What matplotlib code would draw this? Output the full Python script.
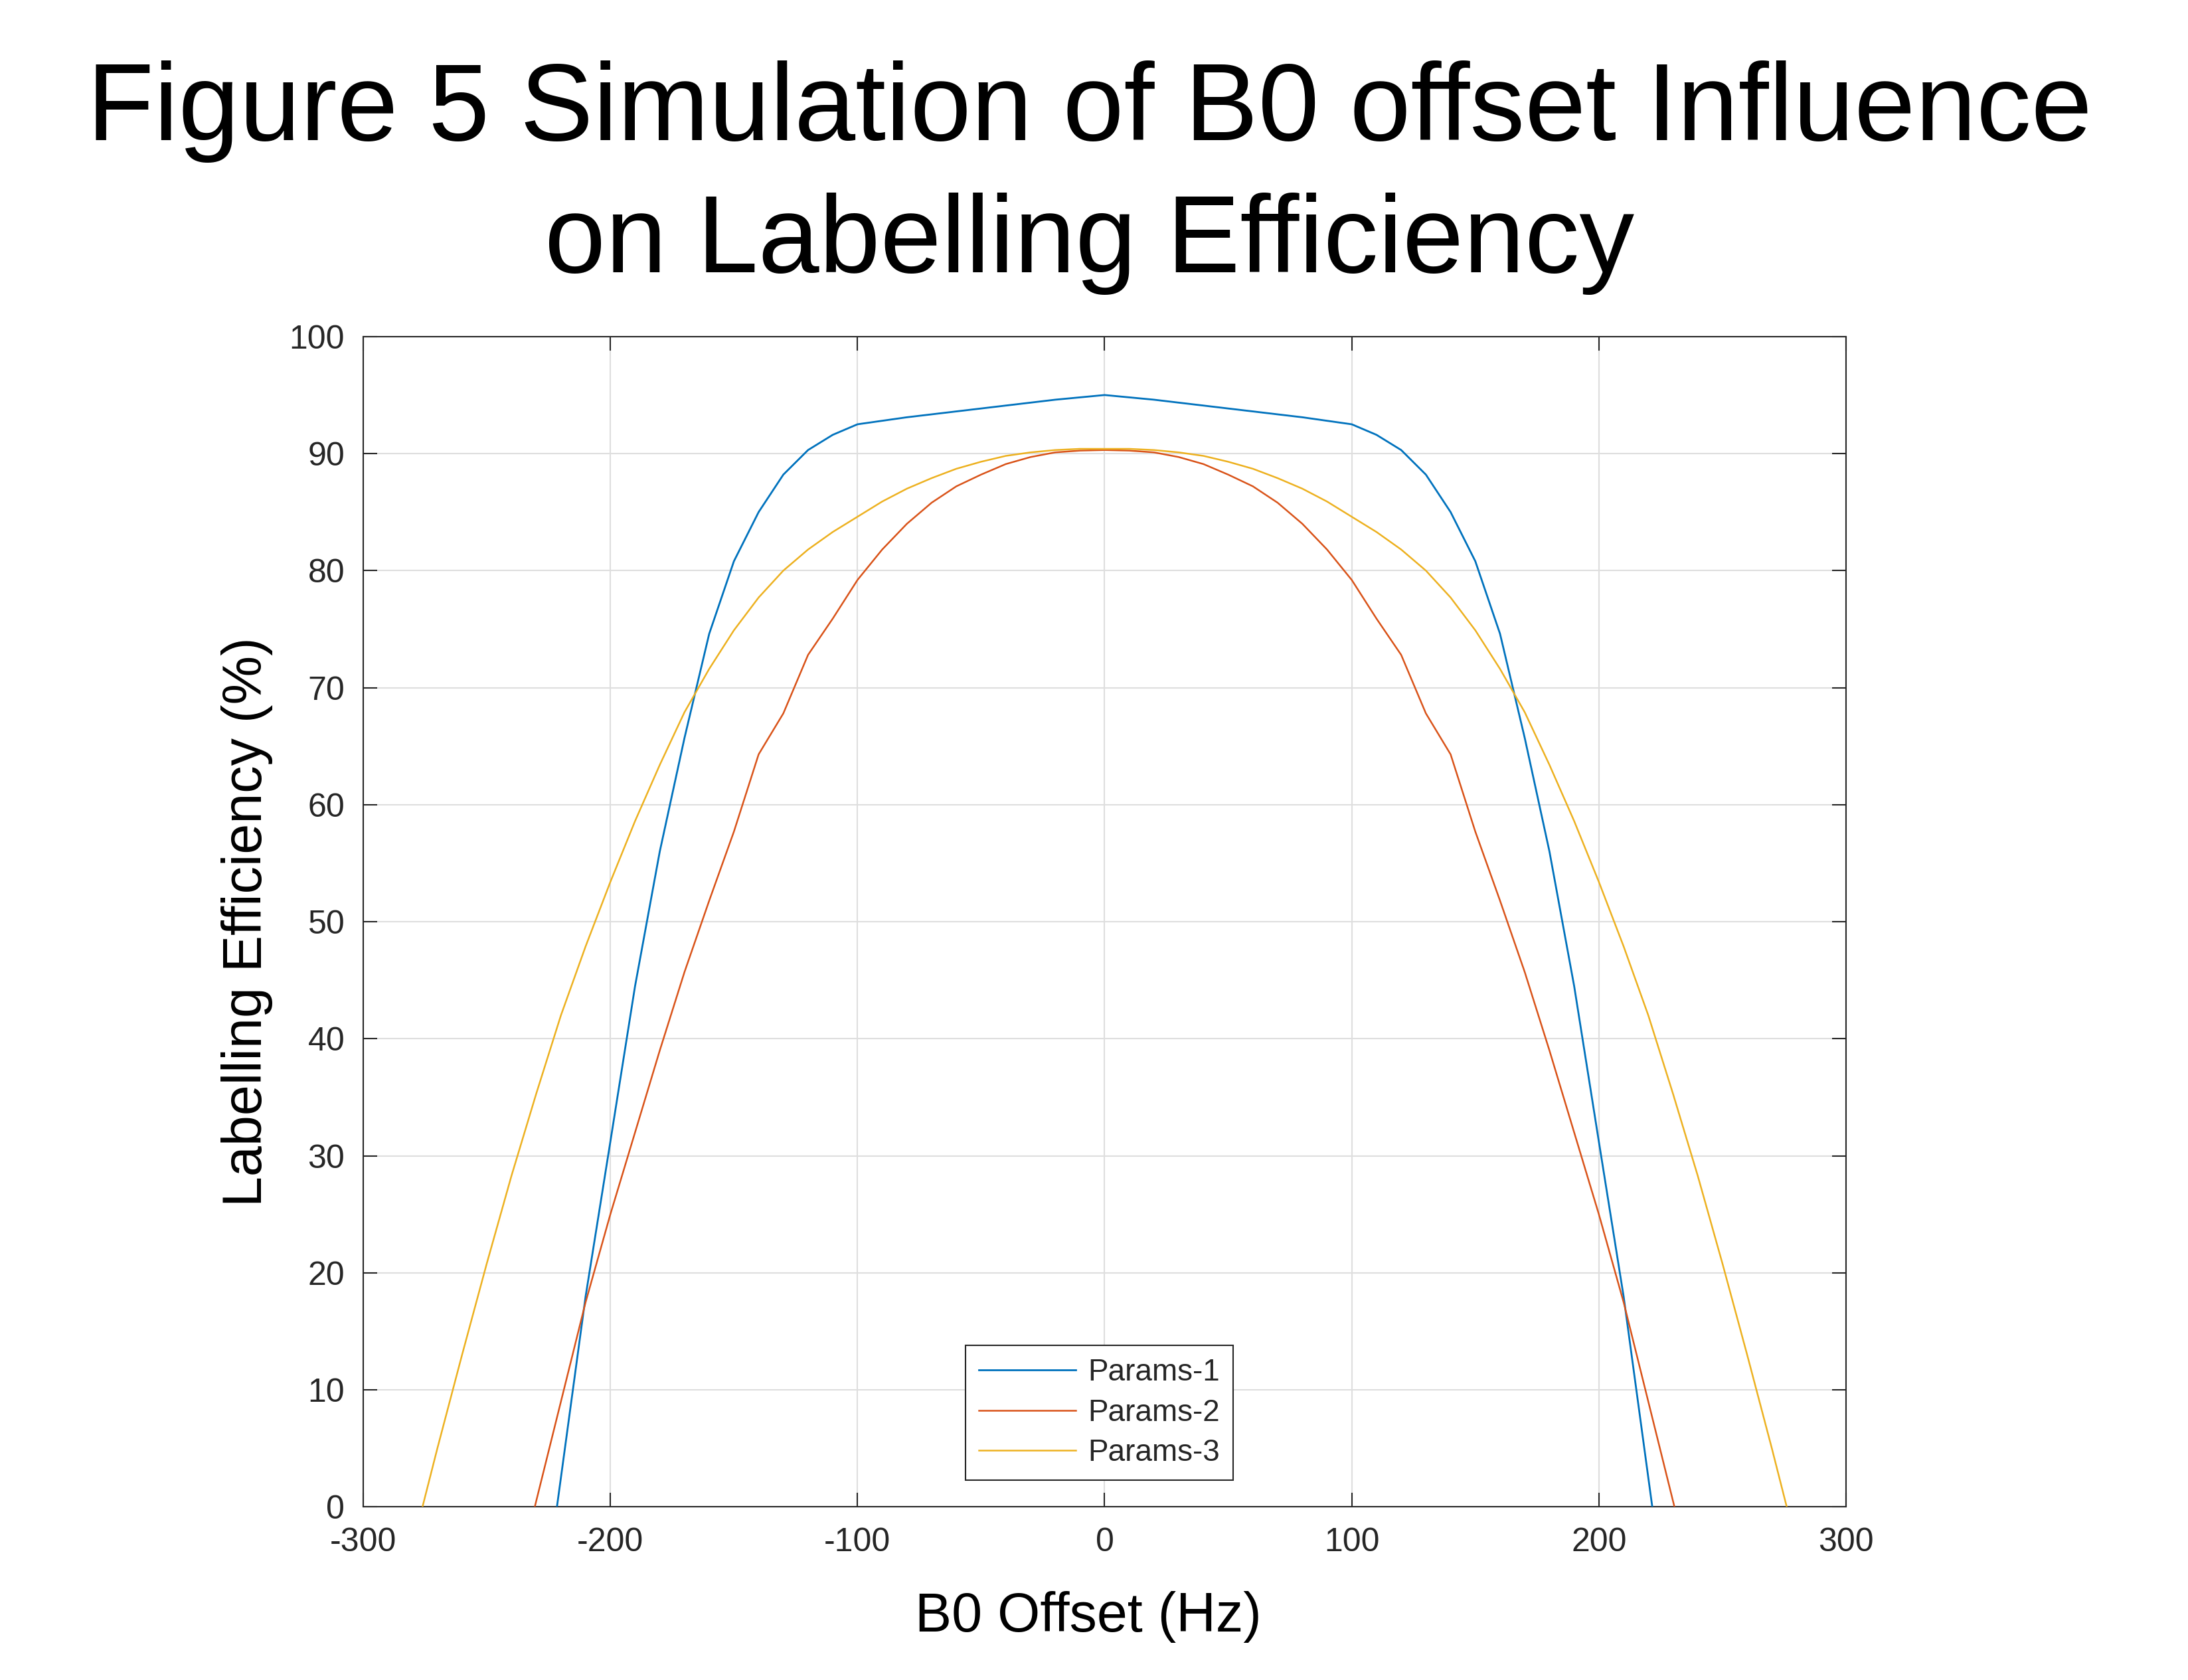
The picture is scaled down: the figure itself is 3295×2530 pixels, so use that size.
import matplotlib.pyplot as plt
import numpy as np

plt.rcParams['font.family'] = ['Liberation Sans', 'DejaVu Sans']
plt.rcParams['axes.unicode_minus'] = False

# B0 offset [Hz]
offset = [-240, -230, -220, -210, -200, -190, -180, -170, -160, -150, -140, -130, -120, -110,
          -100, -90, -80, -70, -60, -50, -40, -30, -20, -10, 0,
          10, 20, 30, 40, 50, 60, 70, 80, 90, 100,
          110, 120, 130, 140, 150, 160, 170, 180, 190, 200, 210, 220, 230, 240]

# Params-1
eff1 = [-26, -13, 2.5, 18, 31.2, 44.5, 56, 65.7, 74.6, 80.8, 85.0, 88.2, 90.3, 91.6,
        92.5, 92.8, 93.1, 93.35, 93.6, 93.85, 94.1, 94.35, 94.6, 94.8, 95.0,
        94.8, 94.6, 94.35, 94.1, 93.85, 93.6, 93.35, 93.1, 92.8, 92.5,
        91.6, 90.3, 88.2, 85.0, 80.8, 74.6, 65.7, 56, 44.5, 31.2, 18, 2.5, -13, -26]

# Params-2
eff2 = [-8, 0.5, 9, 17.5, 25, 32, 39, 45.7, 51.8, 57.7, 64.3, 67.8, 72.8, 75.9,
        79.2, 81.8, 84.0, 85.8, 87.2, 88.2, 89.1, 89.7, 90.1, 90.25, 90.3,
        90.25, 90.1, 89.7, 89.1, 88.2, 87.2, 85.8, 84.0, 81.8, 79.2,
        75.9, 72.8, 67.8, 64.3, 57.7, 51.8, 45.7, 39, 32, 25, 17.5, 9, 0.5, -8]

# Params-3 (wider range)
offset3 = [-280, -270, -260, -250, -240, -230, -220, -210, -200, -190, -180, -170, -160, -150,
           -140, -130, -120, -110, -100, -90, -80, -70, -60, -50, -40, -30, -20, -10, 0,
           10, 20, 30, 40, 50, 60, 70, 80, 90, 100, 110, 120, 130, 140,
           150, 160, 170, 180, 190, 200, 210, 220, 230, 240, 250, 260, 270, 280]
eff3 = [-3.3, 5, 13, 20.8, 28.3, 35.3, 42, 47.9, 53.4, 58.6, 63.4, 67.9, 71.6, 74.9,
        77.7, 80.0, 81.8, 83.3, 84.6, 85.9, 87.0, 87.9, 88.7, 89.3, 89.8, 90.1, 90.3, 90.4, 90.4,
        90.4, 90.3, 90.1, 89.8, 89.3, 88.7, 87.9, 87.0, 85.9, 84.6, 83.3, 81.8, 80.0, 77.7,
        74.9, 71.6, 67.9, 63.4, 58.6, 53.4, 47.9, 42, 35.3, 28.3, 20.8, 13, 5, -3.3]

labels = ['Params-1', 'Params-2', 'Params-3']
colors = ['#0072BD', '#D95319', '#EDB120']

xticks = np.arange(-300, 301, 100)
yticks = np.arange(0, 101, 10)

dark = '#262626'

fig = plt.figure(figsize=(32.95, 25.30), dpi=100)
ax = fig.add_axes([0.166, 0.103, 0.6777, 0.6967])

ax.plot(offset, eff1, color=colors[0], lw=2.0, label=labels[0], zorder=3)
ax.plot(offset, eff2, color=colors[1], lw=1.8, label=labels[1], zorder=3)
ax.plot(offset3, eff3, color=colors[2], lw=1.8, label=labels[2], zorder=3)

ax.set_xlim(-300, 300)
ax.set_ylim(0, 100)
ax.set_xticks(xticks)
ax.set_yticks(yticks)

# MATLAB風の軸
ax.grid(True, color='#dedede', lw=1.5, zorder=0)
ax.set_axisbelow(True)
for s in ax.spines.values():
    s.set_linewidth(1.5)
    s.set_color(dark)
ax.tick_params(direction='in', length=15, width=1.5, colors=dark, labelsize=36,
               top=True, right=True)
ax.tick_params(axis='x', pad=22)
ax.tick_params(axis='y', pad=20)

ax.set_xlabel('B0 Offset (Hz)', fontsize=59.5, color='black')
ax.set_ylabel('Labelling Efficiency (%)', fontsize=59.5, color='black')
ax.xaxis.set_label_coords(0.489, -0.072)
ax.yaxis.set_label_coords(-0.061, 0.5)

leg = ax.legend(loc='lower left', bbox_to_anchor=(0.4064, 0.0227), borderaxespad=0,
                fontsize=33, handlelength=3.2, handletextpad=0.4, labelspacing=0.36,
                borderpad=0.42, fancybox=False, framealpha=1, edgecolor=dark)
leg.get_frame().set_linewidth(1.5)
for t in leg.get_texts():
    t.set_color(dark)

# タイトル
fig.text(0.498, 1 - 211 / 2530, 'Figure 5 Simulation of B0 offset Influence',
         ha='center', va='baseline', fontsize=119)
fig.text(0.498, 1 - 410 / 2530, 'on Labelling Efficiency',
         ha='center', va='baseline', fontsize=119)

plt.savefig('out.png', dpi=100)
